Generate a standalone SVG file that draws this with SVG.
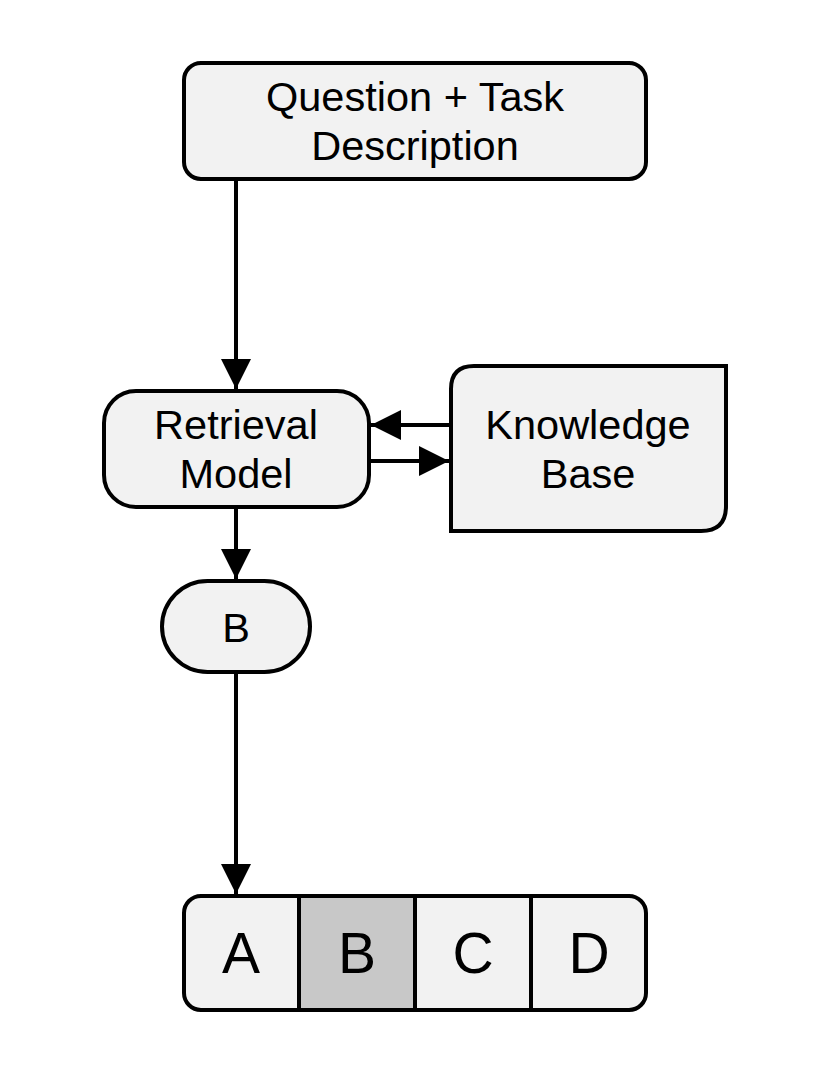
<svg xmlns="http://www.w3.org/2000/svg" width="830" height="1075" viewBox="0 0 830 1075">
<defs>
<style>
.box{fill:#f2f2f2;stroke:#000;stroke-width:4}
.lbl{font-family:"Liberation Sans",Arial,sans-serif;font-size:41.5px;fill:#000;text-anchor:middle}
.big{font-family:"Liberation Sans",Arial,sans-serif;font-size:57px;fill:#000;text-anchor:middle}
.edge{stroke:#000;stroke-width:4;fill:none}
</style>
<marker id="ah2" viewBox="0 0 10 10" refX="10" refY="5" markerWidth="7.5" markerHeight="7.5" orient="auto">
<path d="M0,0 L10,5 L0,10 z" fill="#000"/>
</marker>
</defs>
<rect width="830" height="1075" fill="#fff"/>
<g id="question">
<rect class="box" x="184" y="63" width="462" height="116" rx="17"/>
<text class="lbl" x="415" y="111">Question + Task</text>
<text class="lbl" x="415" y="160">Description</text>
</g>
<g id="retrieval">
<rect class="box" x="104" y="391" width="265" height="116" rx="32"/>
<text class="lbl" x="236" y="439">Retrieval</text>
<text class="lbl" x="236" y="488">Model</text>
</g>
<g id="knowledge">
<path class="box" d="M474,366 L726,366 L726,506 Q726,531 701,531 L451,531 L451,389 Q451,366 474,366 Z"/>
<text class="lbl" x="588" y="439">Knowledge</text>
<text class="lbl" x="588" y="488">Base</text>
</g>
<g id="answer">
<rect class="box" x="162" y="581" width="148" height="91" rx="45.5"/>
<text class="lbl" x="236" y="642">B</text>
</g>
<g id="options">
<rect x="300" y="896" width="115" height="114" fill="#c8c8c8"/>
<path d="M184,913 Q184,896 201,896 L299,896 L299,1010 L201,1010 Q184,1010 184,993 Z" fill="#f2f2f2"/>
<path d="M415,896 L629,896 Q646,896 646,913 L646,993 Q646,1010 629,1010 L415,1010 Z" fill="#f2f2f2"/>
<rect x="184" y="896" width="462" height="114" rx="17" fill="none" stroke="#000" stroke-width="4"/>
<line x1="299" y1="896" x2="299" y2="1010" stroke="#000" stroke-width="4"/>
<line x1="415" y1="896" x2="415" y2="1010" stroke="#000" stroke-width="4"/>
<line x1="531" y1="896" x2="531" y2="1010" stroke="#000" stroke-width="4"/>
<text class="big" x="241" y="973">A</text>
<text class="big" x="357" y="973">B</text>
<text class="big" x="473" y="973">C</text>
<text class="big" x="589" y="973">D</text>
</g>
<g id="connectors">
<line class="edge" x1="236" y1="179" x2="236" y2="389" marker-end="url(#ah2)"/>
<line class="edge" x1="451" y1="425" x2="371" y2="425" marker-end="url(#ah2)"/>
<line class="edge" x1="369" y1="461" x2="449" y2="461" marker-end="url(#ah2)"/>
<line class="edge" x1="236" y1="507" x2="236" y2="579" marker-end="url(#ah2)"/>
<line class="edge" x1="236" y1="672" x2="236" y2="894" marker-end="url(#ah2)"/>
</g>
</svg>
